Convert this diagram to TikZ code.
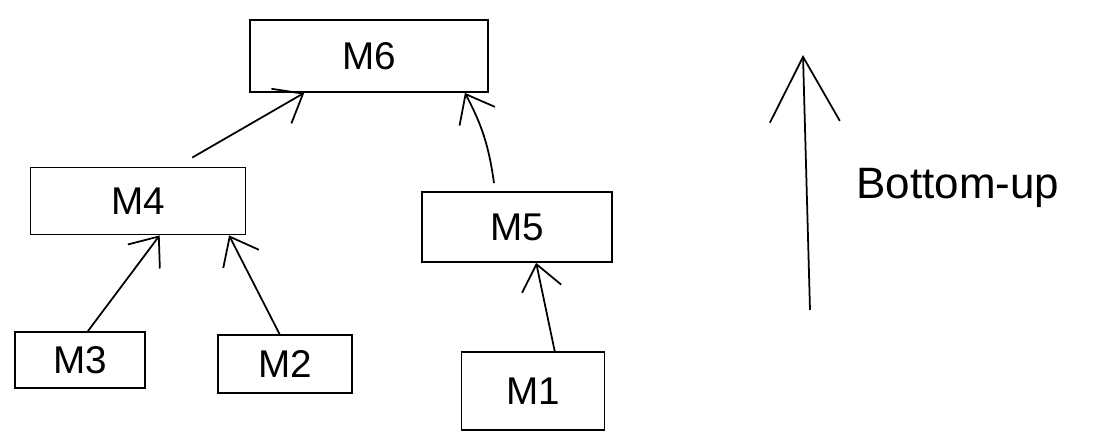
\documentclass[tikz,border=0pt]{standalone}
\usepackage{fontspec}
\setmainfont{Liberation Sans}
\usepackage{tikz}
\usetikzlibrary{calc,arrows.meta,positioning}

\begin{document}
\begin{tikzpicture}
	\tikzstyle{mbox}=[rectangle, draw, line width=1pt, inner sep=0pt, font=\fontsize{22}{24}\selectfont]
	\tikzstyle{uparrow}=[line width=1pt, -{Straight Barb[length=5mm,width=8mm]}]
	\useasboundingbox (0,0) rectangle (21.9,-8.78);
	% modules
	\node[mbox, minimum width=4.76cm, minimum height=1.44cm] (m6) at (7.38,-1.12) {M6};
	\node[mbox, minimum width=4.3cm, minimum height=1.34cm] (m4) at (2.76,-4.02) {M4};
	\node[mbox, minimum width=3.8cm, minimum height=1.4cm] (m5) at (10.34,-4.54) {M5};
	\node[mbox, minimum width=2.6cm, minimum height=1.12cm] (m3) at (1.6,-7.2) {M3};
	\node[mbox, minimum width=2.68cm, minimum height=1.16cm] (m2) at (5.7,-7.28) {M2};
	\node[mbox, minimum width=2.86cm, minimum height=1.56cm] (m1) at (10.66,-7.82) {M1};
	% integration order
	\draw[uparrow] ($(m4.north west)!0.75!(m4.north east)+(0,0.18)$) -- ($(m6.south west)!0.23!(m6.south east)$);
	\draw[uparrow] ($(m5.north west)!0.38!(m5.north east)+(0,0.16)$) to[bend right=10] ($(m6.south west)!0.9!(m6.south east)$);
	\draw[uparrow] ($(m3.north west)!0.56!(m3.north east)$) -- ($(m4.south west)!0.6!(m4.south east)$);
	\draw[uparrow] ($(m2.north west)!0.46!(m2.north east)$) -- ($(m4.south west)!0.92!(m4.south east)$);
	\draw[uparrow] ($(m1.north west)!0.65!(m1.north east)$) -- ($(m5.south west)!0.6!(m5.south east)$);
	% direction
	\coordinate (upbot) at (16.2,-6.2);
	\coordinate (uptop) at (16.06,-1.1);
	\draw[line width=1pt, -{Straight Barb[length=13mm,width=14mm]}] (upbot) -- (uptop);
	\node[font=\fontsize{25}{28}\selectfont] (dir) at (19.16,-3.76) {Bottom-up};
\end{tikzpicture}
\end{document}
